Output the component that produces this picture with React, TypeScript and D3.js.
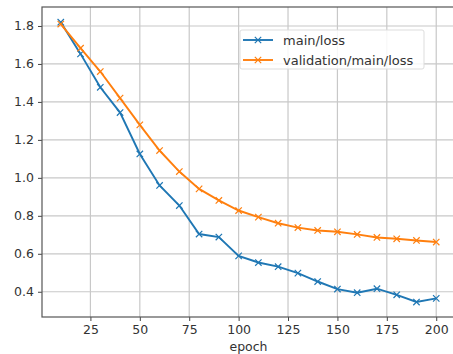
import React, { useEffect, useRef } from 'react';
import * as d3 from 'd3';

const epochs = [10, 20, 30, 40, 50, 60, 70, 80, 90, 100, 110, 120, 130, 140, 150, 160, 170, 180, 190, 200];
const mainLoss = [1.82, 1.653, 1.477, 1.344, 1.126, 0.96, 0.854, 0.704, 0.688, 0.589, 0.554, 0.532, 0.498, 0.454, 0.414, 0.395, 0.416, 0.384, 0.346, 0.365];
const valLoss = [1.81, 1.683, 1.56, 1.42, 1.279, 1.144, 1.033, 0.942, 0.881, 0.828, 0.793, 0.761, 0.738, 0.723, 0.716, 0.702, 0.686, 0.679, 0.670, 0.662];
const xTicks = [25, 50, 75, 100, 125, 150, 175, 200];
const yTicks = [0.4, 0.6, 0.8, 1.0, 1.2, 1.4, 1.6, 1.8];
const seriesNames = ['main/loss', 'validation/main/loss'];
const colors = ['#1f77b4', '#ff7f0e'];

const App = () => {
  const svgRef = useRef<SVGSVGElement>(null);

  useEffect(() => {
    const svg = d3.select(svgRef.current);
    svg.selectAll('*').remove();

    const width = 453;
    const height = 354;
    const left = 42, top = 7, right = 455, bottom = 317;

    const x = d3.scaleLinear().domain([0.5, 209.5]).range([left, right]);
    const y = d3.scaleLinear().domain([0.267, 1.9]).range([bottom, top]);

    svg.attr('width', width).attr('height', height);
    svg.append('rect').attr('width', width).attr('height', height).attr('fill', '#fff');

    const g = svg.append('g');

    // grid
    g.selectAll('.gx').data(xTicks).enter().append('line')
      .attr('x1', d => x(d)).attr('x2', d => x(d))
      .attr('y1', top).attr('y2', bottom)
      .attr('stroke', '#c8c8c8').attr('stroke-width', 1.2);
    g.selectAll('.gy').data(yTicks).enter().append('line')
      .attr('x1', left).attr('x2', right)
      .attr('y1', d => y(d)).attr('y2', d => y(d))
      .attr('stroke', '#c8c8c8').attr('stroke-width', 1.2);

    const font = 'DejaVu Sans, sans-serif';

    // axes
    const xAxis = g.append('g')
      .attr('transform', `translate(0,${bottom})`)
      .call(d3.axisBottom(x).tickValues(xTicks).tickSize(4).tickPadding(4).tickFormat(d3.format('d')));
    const yAxis = g.append('g')
      .attr('transform', `translate(${left},0)`)
      .call(d3.axisLeft(y).tickValues(yTicks).tickSize(4).tickPadding(4).tickFormat(d3.format('.1f')));
    [xAxis, yAxis].forEach(a => {
      a.select('.domain').remove();
      a.selectAll('line').attr('stroke', '#444');
      a.selectAll('text').attr('fill', '#333').style('font-family', font).style('font-size', '12.5px');
    });

    // spines
    g.append('rect')
      .attr('x', left).attr('y', top)
      .attr('width', right - left).attr('height', bottom - top)
      .attr('fill', 'none').attr('stroke', '#555').attr('stroke-width', 1.2);

    g.append('text')
      .attr('x', (left + right) / 2).attr('y', 351)
      .attr('text-anchor', 'middle')
      .attr('fill', '#333')
      .style('font-family', font).style('font-size', '12.5px')
      .text('epoch');

    const series = [mainLoss, valLoss];
    const line = d3.line<number>().x((_, i) => x(epochs[i])).y(d => y(d));
    const m = 3.2;

    series.forEach((vals, si) => {
      g.append('path')
        .attr('d', line(vals))
        .attr('fill', 'none')
        .attr('stroke', colors[si])
        .attr('stroke-width', 1.9);
      g.selectAll(`.mk${si}`).data(vals).enter().append('path')
        .attr('d', (d, i) => {
          const cx = x(epochs[i]), cy = y(d);
          return `M${cx - m},${cy - m}L${cx + m},${cy + m}M${cx - m},${cy + m}L${cx + m},${cy - m}`;
        })
        .attr('stroke', colors[si])
        .attr('stroke-width', 1.2)
        .attr('fill', 'none');
    });

    // legend
    const lg = g.append('g').attr('transform', 'translate(240,30)');
    lg.append('rect')
      .attr('width', 184).attr('height', 39).attr('rx', 2)
      .attr('fill', '#fff').attr('fill-opacity', 0.85)
      .attr('stroke', '#dddddd');
    seriesNames.forEach((name, i) => {
      const ly = 10 + i * 20;
      lg.append('line')
        .attr('x1', 3).attr('x2', 33).attr('y1', ly).attr('y2', ly)
        .attr('stroke', colors[i]).attr('stroke-width', 1.9);
      lg.append('path')
        .attr('d', `M${18 - m},${ly - m}L${18 + m},${ly + m}M${18 - m},${ly + m}L${18 + m},${ly - m}`)
        .attr('stroke', colors[i]).attr('stroke-width', 1.2);
      lg.append('text')
        .attr('x', 43).attr('y', ly).attr('dy', '0.35em')
        .attr('fill', '#333')
        .style('font-family', font).style('font-size', '13px')
        .text(name);
    });
  }, []);

  return <svg ref={svgRef} style={{ position: 'absolute', left: 0, top: 0, display: 'block' }} />;
};

export default App;
